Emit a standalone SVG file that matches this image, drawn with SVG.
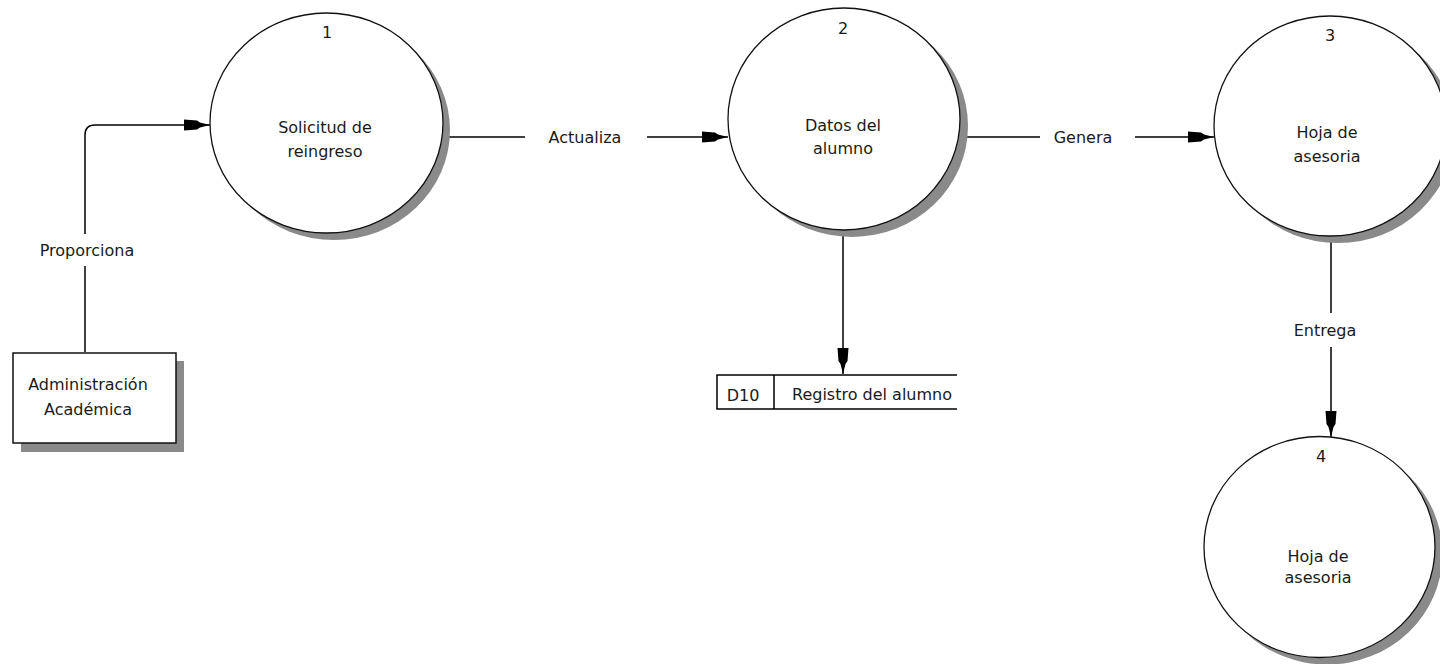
<svg xmlns="http://www.w3.org/2000/svg" width="1440" height="664" viewBox="0 0 1440 664">
<defs>
<marker id="arr" markerUnits="userSpaceOnUse" markerWidth="28" markerHeight="14" viewBox="0 -7 28 14" refX="26" refY="0" orient="auto">
<path d="M0,-5.5 L13,-4.5 L16,-2.5 L26,0 L16,2.5 L13,4.5 L0,5.5 Z" fill="#000"/>
</marker>
</defs>
<style>
.t{font-family:"DejaVu Sans","Liberation Sans",sans-serif;font-size:16px;fill:#1a1a1a;text-anchor:middle}
.ln{fill:none;stroke:#000;stroke-width:1.5}
.proc{fill:#fff;stroke:#111;stroke-width:1.3}
.sh{fill:#8a8a8a;stroke:none}
.ent{fill:#fff;stroke:#111;stroke-width:1.5}
</style>
<rect width="1440" height="664" fill="#fff"/>
<g id="connectors">
<path class="ln" d="M85,352 V266"/>
<path class="ln" d="M85,234 V135 Q85,125 95,125 H210" marker-end="url(#arr)"/>
<text class="t" x="87" y="256">Proporciona</text>
<path class="ln" d="M444,137 H525"/>
<path class="ln" d="M647,137 H728" marker-end="url(#arr)"/>
<text class="t" x="585" y="143">Actualiza</text>
<path class="ln" d="M960,137 H1040"/>
<path class="ln" d="M1135,137 H1214" marker-end="url(#arr)"/>
<text class="t" x="1083" y="143">Genera</text>
<path class="ln" d="M843,230 V374" marker-end="url(#arr)"/>
<path class="ln" d="M1331,237 V313"/>
<path class="ln" d="M1331,347 V437" marker-end="url(#arr)"/>
<text class="t" x="1325" y="336">Entrega</text>
</g>
<g id="ext-admin">
<rect class="sh" x="21" y="361" width="163" height="91"/>
<rect class="ent" x="13" y="353" width="163" height="90"/>
<text class="t" x="88" y="390">Administración</text>
<text class="t" x="88" y="415">Académica</text>
</g>
<g id="p1">
<ellipse class="sh" cx="334" cy="130" rx="116" ry="110"/>
<ellipse class="proc" cx="326.5" cy="123" rx="116.5" ry="110"/>
<text class="t" x="327" y="38">1</text>
<text class="t" x="325" y="133">Solicitud de</text>
<text class="t" x="325" y="157">reingreso</text>
</g>
<g id="p2">
<ellipse class="sh" cx="852" cy="126" rx="116" ry="111"/>
<ellipse class="proc" cx="844" cy="119" rx="116" ry="111"/>
<text class="t" x="843" y="34">2</text>
<text class="t" x="843" y="131">Datos del</text>
<text class="t" x="843" y="154">alumno</text>
</g>
<g id="p3">
<ellipse class="sh" cx="1338" cy="133" rx="116" ry="110"/>
<ellipse class="proc" cx="1330" cy="126" rx="116" ry="110"/>
<text class="t" x="1330" y="41">3</text>
<text class="t" x="1327" y="138">Hoja de</text>
<text class="t" x="1327" y="162">asesoria</text>
</g>
<g id="p4">
<ellipse class="sh" cx="1327" cy="554" rx="115.5" ry="110.5"/>
<ellipse class="proc" cx="1319.5" cy="547" rx="115.5" ry="110.5"/>
<text class="t" x="1321" y="462">4</text>
<text class="t" x="1318" y="562">Hoja de</text>
<text class="t" x="1318" y="583">asesoria</text>
</g>
<g id="ds-d10">
<path class="ln" d="M957,375 H717 V409 H957 M774,375 V409"/>
<text class="t" x="743" y="401">D10</text>
<text class="t" x="872" y="400">Registro del alumno</text>
</g>
</svg>
